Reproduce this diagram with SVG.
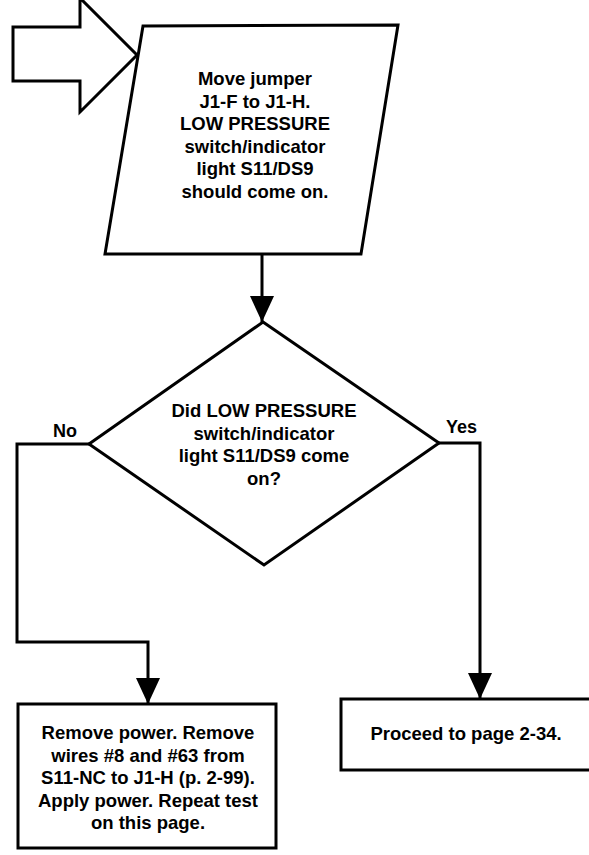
<svg xmlns="http://www.w3.org/2000/svg" width="589" height="855" viewBox="0 0 589 855">
<style>
.sh{fill:#fff;stroke:#000;stroke-width:3;stroke-linejoin:miter}
.ln{fill:none;stroke:#000;stroke-width:3}
.t{font-family:"Liberation Sans",Arial,sans-serif;font-weight:700;font-size:18.5px;fill:#000;text-anchor:middle}
.lb{font-family:"Liberation Sans",Arial,sans-serif;font-weight:700;font-size:18px;fill:#000}
</style>
<defs>
<marker id="ah" viewBox="0 0 26 24" refX="26" refY="12" markerWidth="26" markerHeight="24" markerUnits="userSpaceOnUse" orient="auto">
<path d="M0,0 L26,12 L0,24 Z" fill="#000"/>
</marker>
</defs>
<g id="entry">
<polygon class="sh" points="13,27 80,27 80,-2 137,55 80,112 80,81 13,81"/>
</g>
<g id="move-jumper">
<polygon class="sh" points="143,26 398,25 361,254 105,254"/>
<text class="t" x="255" y="85">Move jumper</text>
<text class="t" x="255" y="107.5">J1-F to J1-H.</text>
<text class="t" x="255" y="130">LOW PRESSURE</text>
<text class="t" x="255" y="152.5">switch/indicator</text>
<text class="t" x="255" y="175">light S11/DS9</text>
<text class="t" x="255" y="197.5">should come on.</text>
</g>
<g id="decision">
<polygon class="sh" points="263,322 439,443 264,565 89,444"/>
<text class="t" x="264" y="417">Did LOW PRESSURE</text>
<text class="t" x="264" y="439.5">switch/indicator</text>
<text class="t" x="264" y="462">light S11/DS9 come</text>
<text class="t" x="264" y="484.5">on?</text>
</g>
<g id="remove-power">
<rect class="sh" x="18" y="704" width="258" height="144"/>
<text class="t" x="148" y="739">Remove power. Remove</text>
<text class="t" x="148" y="761.5">wires #8 and #63 from</text>
<text class="t" x="148" y="784">S11-NC to J1-H (p. 2-99).</text>
<text class="t" x="148" y="806.5">Apply power. Repeat test</text>
<text class="t" x="148" y="829">on this page.</text>
</g>
<g id="proceed">
<rect class="sh" x="341" y="699" width="262" height="71"/>
<text class="t" x="466" y="740">Proceed to page 2-34.</text>
</g>
<g id="connectors">
<path class="ln" d="M262,254 V322" marker-end="url(#ah)"/>
<path class="ln" d="M89,444 H17 V642 H148 V704" marker-end="url(#ah)"/>
<path class="ln" d="M439,443 H480 V699" marker-end="url(#ah)"/>
<text class="lb" x="53" y="437">No</text>
<text class="lb" x="446" y="433">Yes</text>
</g>
</svg>
